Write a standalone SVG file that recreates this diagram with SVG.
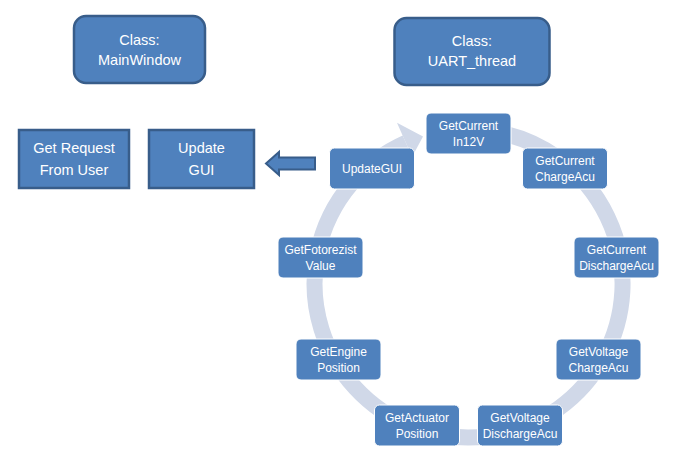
<svg xmlns="http://www.w3.org/2000/svg" width="684" height="472" viewBox="0 0 684 472">
<style>
.cls{fill:#4F81BD;stroke:#385D8A;stroke-width:2.5}
.nd{fill:#4F81BD;stroke:#ffffff;stroke-width:1}
.t{font-family:"Liberation Sans",Arial,sans-serif;fill:#ffffff;text-anchor:middle}
.big{font-size:14.5px}
.sm{font-size:12px}
.ring{fill:none;stroke:#D0D8E8;stroke-width:16}
</style>
<rect width="684" height="472" fill="#ffffff"/>
<g id="connectors">
<path class="ring" d="M 495.2 131.8 A 154 154 0 1 1 405.9 142.8"/>
<polygon fill="#D0D8E8" points="397,122.7 423,136.4 410,160.7 409.1,150.1 402.6,135.5"/>
<polygon fill="#4F81BD" stroke="#385D8A" stroke-width="2" points="266,163.5 279,152 279,157.5 315,157.5 315,169.5 279,169.5 279,175"/>
</g>
<g id="class-mainwindow">
<rect class="cls" x="74" y="16" width="131" height="67" rx="12"/>
<text class="t big" x="139.5" y="45">Class:</text>
<text class="t big" x="139.5" y="65">MainWindow</text>
</g>
<g id="class-uart">
<rect class="cls" x="394.5" y="18" width="155" height="67" rx="12"/>
<text class="t big" x="472" y="46">Class:</text>
<text class="t big" x="472" y="66">UART_thread</text>
</g>
<g id="get-request">
<rect class="cls" x="19" y="130" width="110" height="58"/>
<text class="t big" x="74" y="152.5">Get Request</text>
<text class="t big" x="74" y="174.5">From User</text>
</g>
<g id="update-gui">
<rect class="cls" x="149" y="130" width="105" height="58"/>
<text class="t big" x="201.5" y="152.5">Update</text>
<text class="t big" x="201.5" y="174.5">GUI</text>
</g>
<g id="n-in12v">
<rect class="nd" x="426" y="113" width="85" height="41" rx="5"/>
<text class="t sm" x="468.5" y="129.5">GetCurrent</text>
<text class="t sm" x="468.5" y="145.5">In12V</text>
</g>
<g id="n-chargeacu">
<rect class="nd" x="522.5" y="148" width="85" height="41" rx="5"/>
<text class="t sm" x="565" y="165">GetCurrent</text>
<text class="t sm" x="565" y="181">ChargeAcu</text>
</g>
<g id="n-dischargeacu">
<rect class="nd" x="574" y="237" width="85" height="41" rx="5"/>
<text class="t sm" x="616.5" y="254">GetCurrent</text>
<text class="t sm" x="616.5" y="270">DischargeAcu</text>
</g>
<g id="n-vcharge">
<rect class="nd" x="556" y="339" width="85" height="41" rx="5"/>
<text class="t sm" x="598.5" y="355.5">GetVoltage</text>
<text class="t sm" x="598.5" y="371.5">ChargeAcu</text>
</g>
<g id="n-vdischarge">
<rect class="nd" x="477.5" y="405" width="85" height="41" rx="5"/>
<text class="t sm" x="520" y="421.5">GetVoltage</text>
<text class="t sm" x="520" y="437.5">DischargeAcu</text>
</g>
<g id="n-actuator">
<rect class="nd" x="374.5" y="405" width="85" height="41" rx="5"/>
<text class="t sm" x="417" y="421.5">GetActuator</text>
<text class="t sm" x="417" y="437.5">Position</text>
</g>
<g id="n-engine">
<rect class="nd" x="296" y="339" width="85" height="41" rx="5"/>
<text class="t sm" x="338.5" y="355.5">GetEngine</text>
<text class="t sm" x="338.5" y="371.5">Position</text>
</g>
<g id="n-fotorezist">
<rect class="nd" x="278" y="237" width="85" height="41" rx="5"/>
<text class="t sm" x="320.5" y="254">GetFotorezist</text>
<text class="t sm" x="320.5" y="270">Value</text>
</g>
<g id="n-updategui">
<rect class="nd" x="329.5" y="148" width="85" height="41" rx="5"/>
<text class="t sm" x="372" y="173">UpdateGUI</text>
</g>
</svg>
